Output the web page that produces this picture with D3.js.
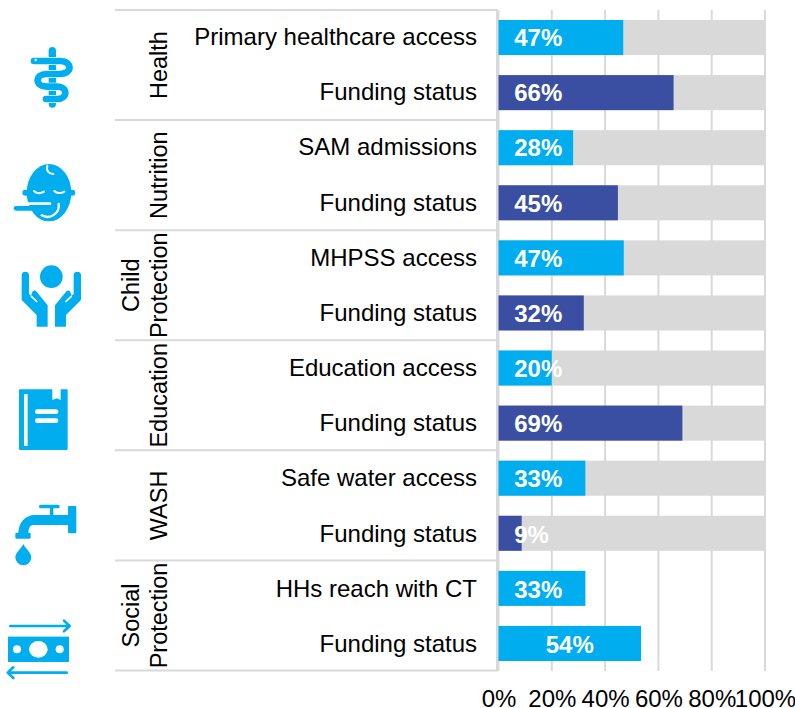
<!DOCTYPE html>
<html lang="en">
<head>
<meta charset="utf-8">
<title>Sector indicators</title>
<style>
  body { margin: 0; background: #fff; }
  svg { display: block; }
  text { font-family: "Liberation Sans", Arial, sans-serif; fill: #000; }
  .tick line, .domain { display: none; }
</style>
<script src="https://cdn.jsdelivr.net/npm/d3@7"></script>
</head>
<body>
<script>
var w = 795, h = 708;

var groups = [["Health"], ["Nutrition"], ["Child", "Protection"], ["Education"], ["WASH"], ["Social", "Protection"]];
var categories = ["Primary healthcare access", "Funding status", "SAM admissions", "Funding status",
  "MHPSS access", "Funding status", "Education access", "Funding status",
  "Safe water access", "Funding status", "HHs reach with CT", "Funding status"];
var values = [46.8, 65.7, 28, 44.8, 47, 32, 20, 69, 32.6, 8.7, 32.6, 53.5];
var labels = ["47%", "66%", "28%", "45%", "47%", "32%", "20%", "69%", "33%", "9%", "33%", "54%"];
var isFunding = [0, 1, 0, 1, 0, 1, 0, 1, 0, 1, 0, 0];
var backdrop = [100, 100, 100, 100, 100, 100, 100, 100, 100, 100, 0, 0];
var ticks = [0, 20, 40, 60, 80, 100];

var blue = "#00aeef", navy = "#3a4fa1", grey = "#d9d9d9";

var svg = d3.select("body").append("svg").attr("width", w).attr("height", h);

var x = d3.scaleLinear().domain([0, 100]).range([498.5, 765]);
var y = d3.scaleBand().domain(d3.range(categories.length)).range([10, 671]).paddingInner(20 / 55).paddingOuter(10 / 55);
// text rows drift a little from the bars in the original
var yText = d3.scaleBand().domain(d3.range(categories.length)).range([10, 672]);
var yGroup = d3.scaleBand().domain(d3.range(groups.length)).range([10, 670.5]);

// gridlines
svg.append("g").selectAll("line").data(ticks).enter().append("line")
  .attr("x1", function(d) { return x(d); })
  .attr("x2", function(d) { return x(d); })
  .attr("y1", 10).attr("y2", 671)
  .attr("stroke", grey).attr("stroke-width", 2);

// group separators
svg.append("g").selectAll("line").data(d3.range(groups.length + 1)).enter().append("line")
  .attr("x1", 115).attr("x2", 498)
  .attr("y1", function(d) { return 10 + d * yGroup.step(); })
  .attr("y2", function(d) { return 10 + d * yGroup.step(); })
  .attr("stroke", grey).attr("stroke-width", 2);
svg.append("line").attr("x1", 497).attr("x2", 497).attr("y1", 10).attr("y2", 671)
  .attr("stroke", grey).attr("stroke-width", 2);

// grey 100% backdrop
svg.append("g").selectAll("rect").data(backdrop).enter().append("rect")
  .attr("x", x(0))
  .attr("y", function(d, i) { return y(i); })
  .attr("width", function(d) { return x(d) - x(0); })
  .attr("height", y.bandwidth())
  .attr("fill", grey);

svg.append("g").selectAll("rect").data(values).enter().append("rect")
  .attr("x", x(0))
  .attr("y", function(d, i) { return y(i); })
  .attr("width", function(d) { return x(d) - x(0); })
  .attr("height", y.bandwidth())
  .attr("fill", function(d, i) { return isFunding[i] ? navy : blue; });

// value labels: left aligned, except the last one which sits mid bar
svg.append("g").selectAll("text").data(labels).enter().append("text")
  .attr("x", function(d, i) { return i == labels.length - 1 ? (x(0) + x(values[i])) / 2 : x(5.9); })
  .attr("y", function(d, i) { return yText(i) + yText.bandwidth() / 2 + 8.5; })
  .attr("text-anchor", function(d, i) { return i == labels.length - 1 ? "middle" : "start"; })
  .attr("font-size", 24).attr("font-weight", "bold")
  .style("fill", "#fff")
  .text(function(d) { return d; });

// category labels
svg.append("g").selectAll("text").data(categories).enter().append("text")
  .attr("x", 477)
  .attr("y", function(d, i) { return yText(i) + yText.bandwidth() / 2 + 7.5; })
  .attr("text-anchor", "end")
  .attr("font-size", 24)
  .text(function(d) { return d; });

// rotated group labels
var gl = svg.append("g").selectAll("g").data(groups).enter().append("g")
  .attr("transform", function(d, i) { return "translate(0," + (yGroup(i) + yGroup.bandwidth() / 2) + ")"; });
gl.each(function(d) {
  var g = d3.select(this);
  d.forEach(function(line, j) {
    g.append("text")
      .attr("transform", "translate(" + (166.5 - (d.length - 1 - j) * 27.5) + ",0) rotate(-90)")
      .attr("text-anchor", "middle")
      .attr("font-size", 23.5)
      .text(line);
  });
});

// x axis
svg.append("g")
  .attr("transform", "translate(0,680)")
  .call(d3.axisBottom(x).tickValues(ticks).tickSize(0).tickPadding(0).tickFormat(function(d) { return d + "%"; }))
  .call(function(g) {
    g.selectAll("text").attr("y", 27).attr("dy", 0).attr("font-size", 24).attr("font-family", null);
  });

// icons, drawn in units of 1/3 px
function icon(ty) {
  return svg.append("g").attr("transform", "translate(0," + ty + ") scale(0.3333)")
    .attr("fill", blue).attr("stroke-linecap", "round").attr("stroke-linejoin", "round");
}
function line(g, d, color, sw) {
  return g.append("path").attr("d", d).attr("fill", "none").attr("stroke", color).attr("stroke-width", sw);
}

// health
var a = icon(0);
var snake = "M102,183H180C218,183 218,222 180,222H140C104,222 104,260 140,260H172C204,260 204,297 172,297H138";
line(a, "M157,152V312", blue, 22);
line(a, snake, "#fff", 24);
line(a, snake, blue, 20);
a.append("circle").attr("cx", 107).attr("cy", 180).attr("r", 3.5).attr("fill", "#fff");

// nutrition
var b = icon(0);
b.append("ellipse").attr("cx", 147).attr("cy", 578).attr("rx", 67).attr("ry", 86);
b.append("circle").attr("cx", 76).attr("cy", 578).attr("r", 9);
b.append("circle").attr("cx", 217).attr("cy", 578).attr("r", 9);
line(b, "M142,497C138,512 146,522 160,522", "#fff", 6);
line(b, "M102,573C110,581 122,581 132,575", "#fff", 6);
line(b, "M163,573C170,581 184,581 193,575", "#fff", 6);
line(b, "M48,611H150", "#fff", 8);
line(b, "M48,625H165", blue, 14);
line(b, "M125,646C150,660 180,640 176,612", "#fff", 7);

// child protection
var c = icon(230);
c.append("circle").attr("cx", 154).attr("cy", 140).attr("r", 34);
[0, 1].forEach(function(m) {
  var hand = c.append("g").attr("transform", m ? "translate(308,0) scale(-1,1)" : null);
  hand.append("path").attr("d", "M65,136A11,11 0 0 1 87,136V192L93,197L96,188A8,8 0 0 1 108,183L143,226V290H110V255L65,210Z");
  line(hand, "M94,199L110,214", "#fff", 5);
});

// education
var e = icon(230);
e.append("rect").attr("x", 57).attr("y", 478).attr("width", 146).attr("height", 182).attr("rx", 3);
e.append("rect").attr("x", 72).attr("y", 492).attr("width", 11).attr("height", 156).attr("fill", "#fff");
e.append("path").attr("d", "M157,476H182V510L170,505L157,510Z").attr("fill", "#fff");
e.append("rect").attr("x", 105).attr("y", 538).attr("width", 70).attr("height", 14).attr("rx", 7).attr("fill", "#fff");
e.append("rect").attr("x", 105).attr("y", 565).attr("width", 70).attr("height", 14).attr("rx", 7).attr("fill", "#fff");

// wash
var t = icon(470);
t.append("rect").attr("x", 117).attr("y", 104).attr("width", 62).attr("height", 11).attr("rx", 5);
t.append("rect").attr("x", 150).attr("y", 108).attr("width", 10).attr("height", 32);
t.append("rect").attr("x", 204).attr("y", 108).attr("width", 25).attr("height", 82).attr("rx", 3);
t.append("path").attr("d", "M55,192C55,158 75,135 105,135H206V165H100C90,165 85,175 85,192Z");
t.append("rect").attr("x", 46).attr("y", 188).attr("width", 46).attr("height", 18).attr("rx", 4);
t.append("path").attr("d", "M70,222C78,238 94,248 94,262A24,24 0 0 1 46,262C46,248 62,238 70,222Z");

// social protection
var s = icon(470);
line(s, "M31,468H207M192,452L209,468L192,484", blue, 8);
s.append("rect").attr("x", 24).attr("y", 500).attr("width", 183).attr("height", 76);
s.append("ellipse").attr("cx", 115).attr("cy", 538).attr("rx", 28).attr("ry", 25).attr("fill", "#fff");
s.append("circle").attr("cx", 51).attr("cy", 538).attr("r", 12).attr("fill", "#fff");
s.append("circle").attr("cx", 179).attr("cy", 538).attr("r", 12).attr("fill", "#fff");
line(s, "M200,608H24M40,592L23,608L40,624", blue, 8);
</script>
</body>
</html>
